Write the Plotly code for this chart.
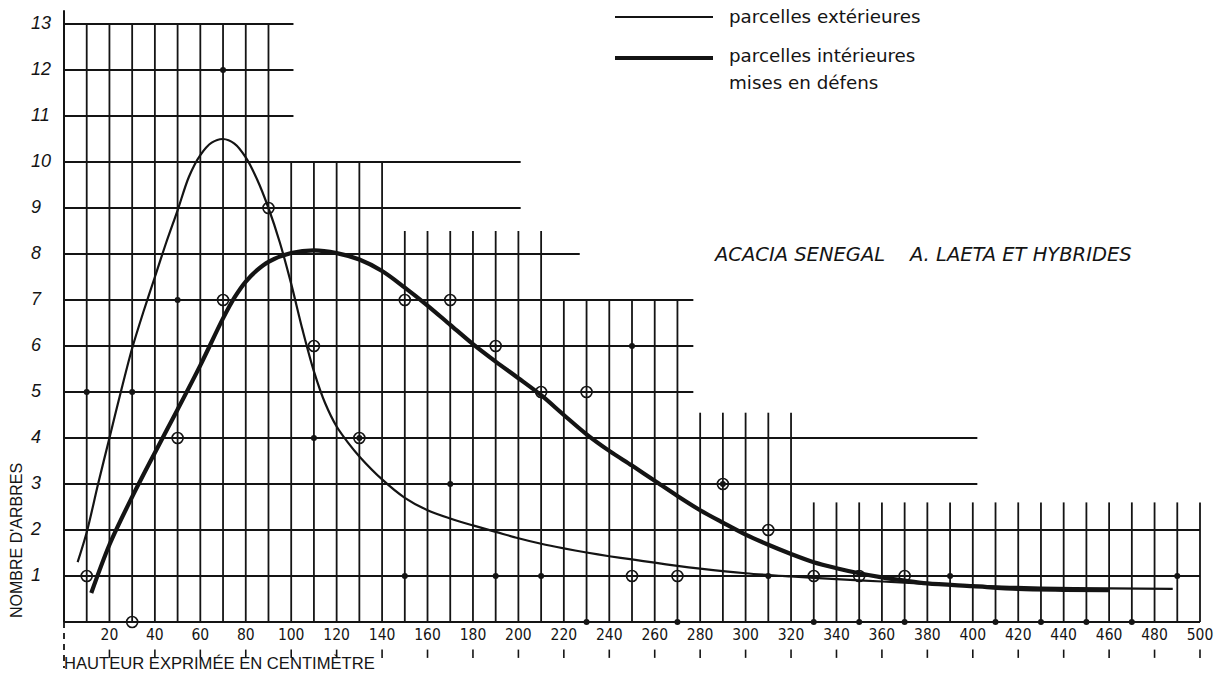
import plotly.graph_objects as go

W, H = 1232, 674

# ---- data ----
dot_x = [10, 30, 50, 70, 110, 130, 150, 170, 190, 210, 230, 250, 270, 290, 310, 330, 350, 370, 390, 410, 430, 450, 470, 490]
dot_y = [5, 5, 7, 12, 4, 4, 1, 3, 1, 1, 0, 6, 0, 3, 1, 0, 0, 0, 1, 0, 0, 0, 0, 1]

circ_x = [10, 30, 50, 70, 90, 110, 130, 150, 170, 190, 210, 230, 250, 270, 290, 310, 330, 350, 370]
circ_y = [1, 0, 4, 7, 9, 6, 4, 7, 7, 6, 5, 5, 1, 1, 3, 2, 1, 1, 1]

thin_x = [6, 10, 15, 20, 25, 30, 35, 40, 45, 50, 55, 60, 65, 70, 75, 80, 85, 90, 95, 100,
          105, 110, 115, 120, 125, 130, 140, 150, 160, 170, 180, 190, 200, 210, 220, 230, 240,
          250, 260, 270, 280, 300, 320, 340, 360, 380, 400, 430, 460, 488]
thin_y = [1.3, 1.95, 3.0, 4.0, 5.0, 5.95, 6.75, 7.5, 8.25, 8.95, 9.68, 10.15, 10.42, 10.5, 10.4, 10.1, 9.62, 9.0, 8.25, 7.35,
          6.35, 5.45, 4.75, 4.25, 3.9, 3.6, 3.1, 2.7, 2.43, 2.25, 2.1, 1.96, 1.82, 1.7, 1.6, 1.51, 1.43,
          1.36, 1.29, 1.22, 1.16, 1.06, 0.99, 0.93, 0.88, 0.83, 0.79, 0.75, 0.73, 0.72]

thick_x = [12, 20, 30, 40, 50, 60, 70, 75, 80, 85, 90, 100, 110, 120, 130, 140, 150, 160, 170, 180, 190, 200, 210,
           220, 230, 240, 250, 260, 270, 280, 290, 300, 310, 320, 330, 340, 350, 360, 370, 380, 400, 420, 440, 460]
thick_y = [0.63, 1.68, 2.72, 3.68, 4.62, 5.58, 6.6, 7.05, 7.4, 7.65, 7.83, 8.02, 8.08, 8.02, 7.88, 7.63, 7.27, 6.88, 6.46, 6.04, 5.66, 5.3, 4.93,
           4.5, 4.08, 3.72, 3.4, 3.07, 2.74, 2.43, 2.16, 1.9, 1.68, 1.48, 1.3, 1.17, 1.06, 0.97, 0.9, 0.84, 0.78, 0.72, 0.7, 0.69]

x_ticks = list(range(20, 501, 20))
x_tick_labels = [str(v) for v in x_ticks]
y_ticks = list(range(1, 14))
y_tick_labels = [str(v) for v in y_ticks]

# stepped grid of the original drawing
h_levels = list(range(0, 14))
h_ends = [500, 500, 500, 402, 402, 277, 277, 277, 227, 201, 201, 101, 101, 101]
v_pos = list(range(10, 501, 10))
v_tops = [13] * 9 + [10] * 5 + [8.5] * 7 + [7] * 6 + [4.55] * 5 + [2.6] * 18

legend_lines = ["parcelles extérieures", "parcelles intérieures", "mises en défens"]
title_text = "ACACIA SENEGAL\u00a0\u00a0\u00a0\u00a0A. LAETA ET HYBRIDES"
x_title = "HAUTEUR EXPRIMÉE EN CENTIMÈTRE"
y_title = "NOMBRE D'ARBRES"

# ---- figure ----
INK = "#141414"
fig = go.Figure()

gx, gy = [], []
for lv, e in zip(h_levels, h_ends):
    gx += [0, e, None]
    gy += [lv, lv, None]
for p, t in zip(v_pos, v_tops):
    gx += [p, p, None]
    gy += [0, t, None]
fig.add_trace(go.Scatter(x=gx, y=gy, mode="lines", line=dict(color=INK, width=1.8),
                         hoverinfo="skip", showlegend=False))

# y axis line and its dashed extension below
fig.add_trace(go.Scatter(x=[0, 0], y=[0, 13.3], mode="lines", line=dict(color=INK, width=2),
                         hoverinfo="skip", showlegend=False))
fig.add_trace(go.Scatter(x=[0, 0], y=[0, -1.0], mode="lines", line=dict(color=INK, width=1.8, dash="6px,5px"),
                         hoverinfo="skip", showlegend=False))

# little tick marks under the x labels
tx, ty = [], []
for v in x_ticks:
    tx += [v, v, None]
    ty += [-0.6, -0.78, None]
fig.add_trace(go.Scatter(x=tx, y=ty, mode="lines", line=dict(color=INK, width=1.6),
                         hoverinfo="skip", showlegend=False))

# curves
fig.add_trace(go.Scatter(x=thin_x, y=thin_y, mode="lines",
                         line=dict(color=INK, width=2.2, shape="spline", smoothing=0.9),
                         name=legend_lines[0], showlegend=False))
fig.add_trace(go.Scatter(x=thick_x, y=thick_y, mode="lines",
                         line=dict(color=INK, width=4.2, shape="spline", smoothing=0.9),
                         name=legend_lines[1], showlegend=False))

# points
fig.add_trace(go.Scatter(x=circ_x, y=circ_y, mode="markers",
                         marker=dict(symbol="circle-open", size=11, color=INK, line=dict(width=1.6)),
                         showlegend=False))
fig.add_trace(go.Scatter(x=dot_x, y=dot_y, mode="markers",
                         marker=dict(symbol="circle", size=6, color=INK),
                         showlegend=False))

# tick labels
fig.add_trace(go.Scatter(x=[-14.5] * len(y_ticks), y=y_ticks, mode="text", text=y_tick_labels,
                         textposition="middle right",
                         textfont=dict(family="Liberation Sans, Arial, sans-serif", size=18, color=INK,
                                       style="italic"),
                         hoverinfo="skip", showlegend=False))
fig.add_trace(go.Scatter(x=x_ticks, y=[-0.3] * len(x_ticks), mode="text", text=x_tick_labels,
                         textposition="middle center",
                         textfont=dict(family="Liberation Sans Narrow, DejaVu Sans Condensed, Roboto, sans-serif",
                                       size=15.5, color=INK),
                         hoverinfo="skip", showlegend=False))


def px(xp):
    return xp / W


def py(yp):
    return 1 - yp / H


# legend keys
fig.add_shape(type="line", xref="paper", yref="paper", x0=px(615), x1=px(713), y0=py(17), y1=py(17),
              line=dict(color=INK, width=2.2))
fig.add_shape(type="line", xref="paper", yref="paper", x0=px(615), x1=px(713), y0=py(58), y1=py(58),
              line=dict(color=INK, width=4))

ann_font = dict(family="DejaVu Sans, Noto Sans, sans-serif", size=18.3, color=INK)
for txt, yy in zip(legend_lines, [16, 56, 83]):
    fig.add_annotation(x=px(727), y=py(yy), xref="paper", yref="paper", text=txt,
                       showarrow=False, xanchor="left", yanchor="middle", font=ann_font)

fig.add_annotation(x=px(711), y=py(254), xref="paper", yref="paper", text=title_text,
                   showarrow=False, xanchor="left", yanchor="middle",
                   font=dict(family="DejaVu Sans, sans-serif", size=19.5, color=INK, style="italic"))
fig.add_annotation(x=px(62), y=py(663), xref="paper", yref="paper", text=x_title,
                   showarrow=False, xanchor="left", yanchor="middle",
                   font=dict(family="Liberation Sans, Arial, sans-serif", size=16.6, color=INK))
fig.add_annotation(x=px(16), y=py(541), xref="paper", yref="paper", text=y_title, textangle=-90,
                   showarrow=False, xanchor="center", yanchor="middle",
                   font=dict(family="Liberation Sans, Arial, sans-serif", size=16, color=INK))

fig.update_layout(
    width=W, height=H, margin=dict(l=0, r=0, t=0, b=0),
    paper_bgcolor="white", plot_bgcolor="white",
    # x = 0 sits at 64 px, 2.272 px per cm; y = 0 sits at 622 px, 46 px per tree
    xaxis=dict(range=[-64 / 2.272, (W - 64) / 2.272], visible=False, fixedrange=True),
    yaxis=dict(range=[-(H - 622) / 46, 622 / 46], visible=False, fixedrange=True),
    showlegend=False,
)

fig.write_html("out.html", config={"displayModeBar": False},
               post_script="document.body.style.margin='0';document.body.style.overflow='hidden';")
